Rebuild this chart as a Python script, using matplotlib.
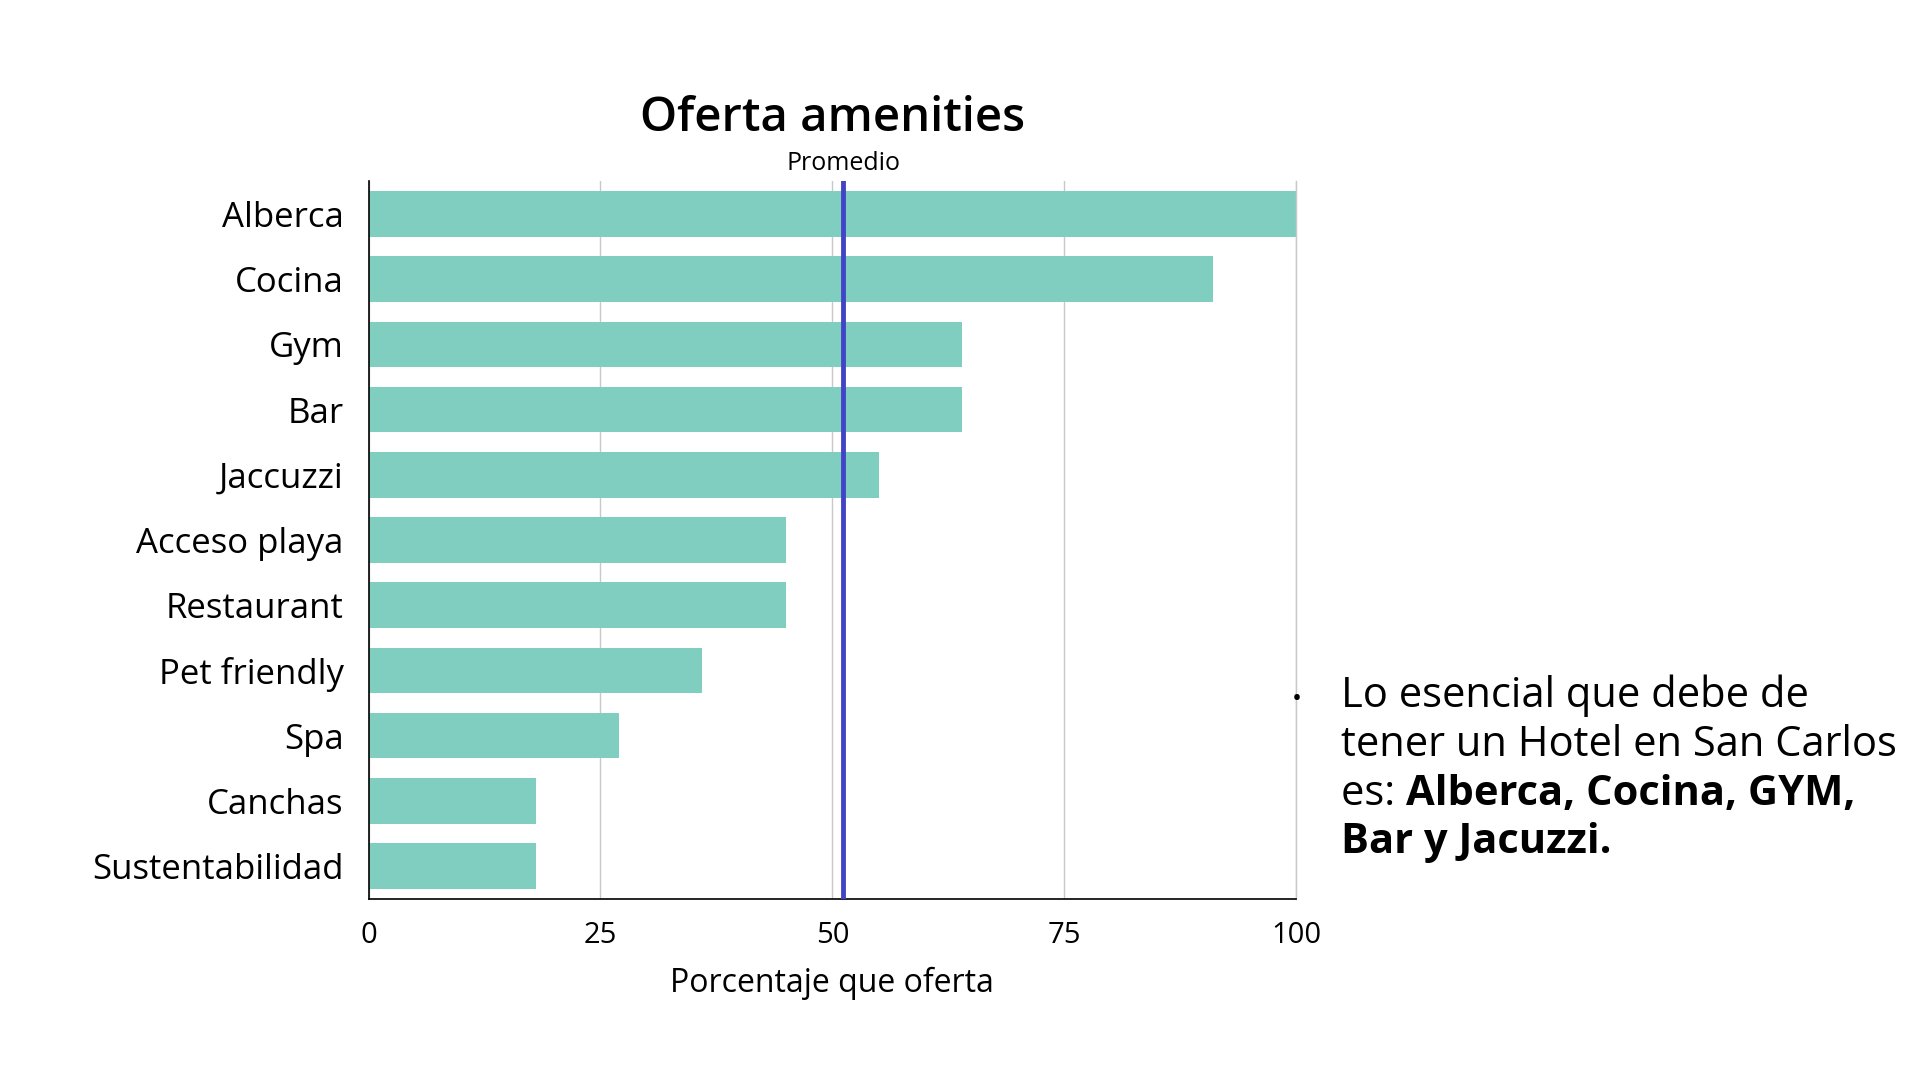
import matplotlib.pyplot as plt

amenities = [
    "Alberca", "Cocina", "Gym", "Bar", "Jaccuzzi", "Acceso playa",
    "Restaurant", "Pet friendly", "Spa", "Canchas", "Sustentabilidad",
]
porcentaje = [100, 91, 64, 64, 55, 45, 45, 36, 27, 18, 18]
x_ticks = [0, 25, 50, 75, 100]

BAR_COLOR = "#80CEBF"
AVG_COLOR = "#4343C8"
GRID_COLOR = "#C8C8C8"
FONT = ["Open Sans", "DejaVu Sans"]

plt.rcParams["font.family"] = FONT

promedio = sum(porcentaje) / len(porcentaje)

fig = plt.figure(figsize=(19.2, 10.8), dpi=100)
ax = fig.add_axes([0.192, 0.168, 0.483, 0.664])

y = list(range(len(amenities)))
ax.barh(y, porcentaje, height=0.7, color=BAR_COLOR, zorder=2)
ax.axvline(promedio, color=AVG_COLOR, lw=3.5, zorder=3)

ax.set_xlim(0, 100)
ax.set_ylim(len(amenities) - 0.5, -0.5)
ax.set_yticks(y)
ax.set_yticklabels(amenities, fontsize=25, fontweight="medium")
ax.set_xticks(x_ticks)
ax.set_xticklabels([str(t) for t in x_ticks], fontsize=21, fontweight="medium")
ax.tick_params(axis="both", length=0)
ax.tick_params(axis="y", pad=18)
ax.tick_params(axis="x", pad=16)
ax.grid(axis="x", color=GRID_COLOR, lw=1.0, zorder=0)
ax.set_axisbelow(True)

ax.spines["top"].set_visible(False)
ax.spines["right"].set_color(GRID_COLOR)
ax.spines["right"].set_linewidth(1.0)
for side in ("left", "bottom"):
    ax.spines[side].set_color("black")
    ax.spines[side].set_linewidth(1.2)

ax.set_xlabel("Porcentaje que oferta", fontsize=23, fontweight="medium",
              labelpad=12)

ax.text(0.5, 1.055, "Oferta amenities", transform=ax.transAxes,
        ha="center", va="bottom", fontsize=34, fontweight="semibold")
ax.text(promedio, 1.008, "Promedio", transform=ax.get_xaxis_transform(),
        ha="center", va="bottom", fontsize=18)

# bullet note on the right
tx, ty, step = 0.6985, 0.356, 0.0455
fig.text(0.6755, ty - 0.004, "\u2022", fontsize=19, va="center", ha="center")
fig.text(tx, ty, "Lo esencial que debe de", fontsize=30, va="center")
fig.text(tx, ty - step, "tener un Hotel en San Carlos", fontsize=30, va="center")
t3 = fig.text(tx, ty - 2 * step, "es: ", fontsize=30, va="center")
ax.annotate("Alberca, Cocina, GYM,", xy=(1, 0), xycoords=t3,
            va="bottom", ha="left", fontsize=30, fontweight="bold")
fig.text(tx, ty - 3 * step, "Bar y Jacuzzi.", fontsize=30, va="center",
         fontweight="bold")

fig.savefig("out.png", dpi=100, facecolor="white")
